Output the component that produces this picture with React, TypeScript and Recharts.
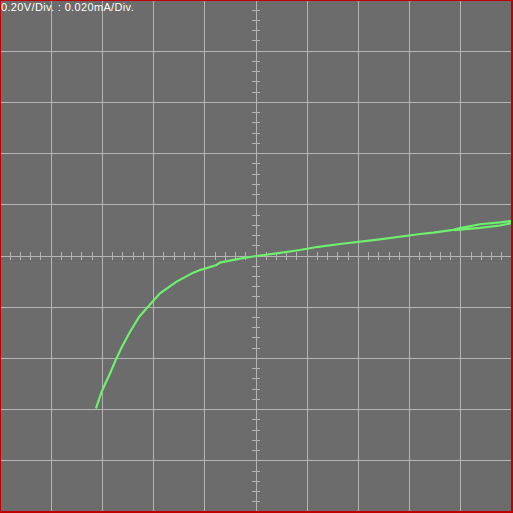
import React from "react";
import { LineChart, Line, XAxis, YAxis, CartesianGrid, ReferenceLine } from "recharts";

// Voltage (V) and current (mA), traced along the sweep (forward, then return)
const voltage = [
  -0.625, -0.603, -0.57, -0.547, -0.525, -0.492, -0.456, -0.427, -0.375, -0.31,
  -0.245, -0.219, -0.154, -0.141, -0.0625, 0, 0.081, 0.172, 0.243, 0.328,
  0.484, 0.641, 0.693, 0.77, 0.797, 0.875, 0.953, 1.0,
  0.992, 0.953, 0.875, 0.809, 0.777,
];
const current = [
  -0.0595, -0.053, -0.0458, -0.0404, -0.0357, -0.0296, -0.0237, -0.0204, -0.0146, -0.01,
  -0.0065, -0.0055, -0.0035, -0.0026, -0.00105, 0, 0.00105, 0.00234, 0.0036, 0.00469,
  0.00652, 0.00859, 0.0091, 0.0102, 0.0109, 0.0124, 0.0131, 0.0137,
  0.0127, 0.0119, 0.011, 0.0104, 0.0101,
];

const xTicks = [-1, -0.8, -0.6, -0.4, -0.2, 0, 0.2, 0.4, 0.6, 0.8, 1];
const yTicks = [-0.1, -0.08, -0.06, -0.04, -0.02, 0, 0.02, 0.04, 0.06, 0.08, 0.1];
const scaleLabel = "0.20V/Div. : 0.020mA/Div.";

const trace = voltage.map((v, i) => ({ v, i: current[i] }));

// minor tick positions: 5 per division along the centre axes
const xMinor: number[] = [];
const yMinor: number[] = [];
for (let k = -25; k <= 25; k++) {
  if (k % 5 !== 0) {
    xMinor.push(k * 0.04);
    yMinor.push(k * 0.004);
  }
}

const GRID = "#b4b4b4";
const BG = "#6c6c6c";
const GREEN = "#6ef06e";

export default function App() {
  return (
    <div
      style={{
        position: "absolute",
        left: 0,
        top: 0,
        width: 513,
        height: 513,
        background: BG,
        boxSizing: "border-box",
        overflow: "hidden",
      }}
    >
      <LineChart
        width={513}
        height={513}
        margin={{ top: 0, right: 1, bottom: 1, left: 0 }}
        style={{ position: "absolute", left: 0, top: 0 }}
      >
        <XAxis type="number" dataKey="v" domain={[-1, 1]} ticks={xTicks} hide allowDataOverflow />
        <YAxis type="number" dataKey="i" domain={[-0.1, 0.1]} ticks={yTicks} hide allowDataOverflow />
        <CartesianGrid stroke={GRID} strokeWidth={1} shapeRendering="crispEdges" />
        {xMinor.map((x) => (
          <ReferenceLine
            key={"xm" + x}
            segment={[{ x, y: -0.00137 }, { x, y: 0.00137 }]}
            stroke={GRID}
            strokeWidth={1}
            shapeRendering="crispEdges"
          />
        ))}
        {yMinor.map((y) => (
          <ReferenceLine
            key={"ym" + y}
            segment={[{ x: -0.0137, y }, { x: 0.0137, y }]}
            stroke={GRID}
            strokeWidth={1}
            shapeRendering="crispEdges"
          />
        ))}
        <Line
          data={trace}
          dataKey="i"
          type="linear"
          stroke={GREEN}
          strokeWidth={2.2}
          dot={false}
          activeDot={false}
          isAnimationActive={false}
        />
      </LineChart>
      <div
        style={{
          position: "absolute",
          left: 1,
          top: 1,
          color: "#ffffff",
          fontFamily: "'Liberation Sans', Arial, sans-serif",
          fontSize: 11,
          letterSpacing: "0.35px",
          lineHeight: "13px",
          whiteSpace: "nowrap",
        }}
      >
        {scaleLabel}
      </div>
      <div
        style={{
          position: "absolute",
          left: 0,
          top: 0,
          width: 513,
          height: 513,
          boxSizing: "border-box",
          borderLeft: "1px solid #c00000",
          borderTop: "1px solid #c00000",
          borderRight: "2px solid #c00000",
          borderBottom: "2px solid #c00000",
          pointerEvents: "none",
        }}
      />
    </div>
  );
}
